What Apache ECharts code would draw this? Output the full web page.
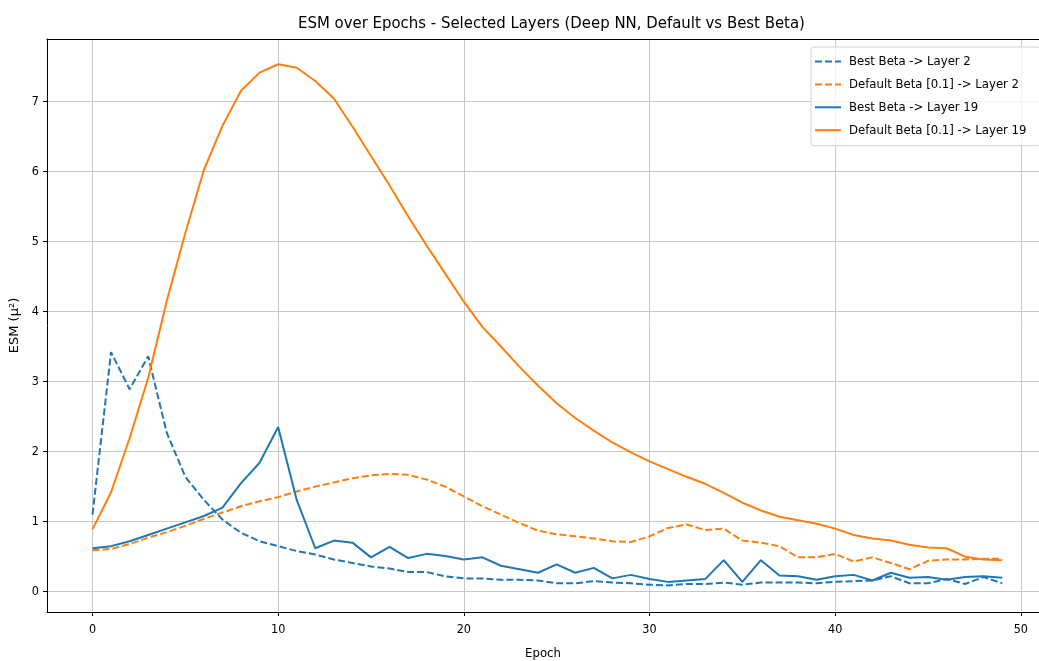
<!DOCTYPE html>
<html lang="en">
<head>
    <meta charset="UTF-8">
    <title>esm</title>
    <script src="https://cdn.jsdelivr.net/npm/echarts@6/dist/echarts.min.js"></script>
    <style>
        html, body { margin: 0; padding: 0; background: #fff; }
        #chart { width: 1039px; height: 661px; }
    </style>
</head>
<body>
<div id="chart"></div>
<script>
    var epochs = [];
    for (var i = 0; i < 50; i++) epochs.push(i);

    var bestL2 = [1.10, 3.42, 2.89, 3.36, 2.27, 1.64, 1.31, 1.03, 0.84, 0.72,
                  0.65, 0.58, 0.53, 0.46, 0.41, 0.36, 0.33, 0.28, 0.28, 0.22,
                  0.19, 0.19, 0.17, 0.17, 0.16, 0.12, 0.12, 0.15, 0.13, 0.12,
                  0.10, 0.09, 0.11, 0.11, 0.13, 0.10, 0.13, 0.13, 0.13, 0.12,
                  0.14, 0.15, 0.16, 0.22, 0.12, 0.12, 0.18, 0.11, 0.21, 0.12];
    var defaultL2 = [0.59, 0.61, 0.68, 0.77, 0.85, 0.94, 1.04, 1.13, 1.22, 1.29,
                     1.35, 1.43, 1.50, 1.56, 1.62, 1.66, 1.68, 1.67, 1.60, 1.50,
                     1.36, 1.22, 1.10, 0.98, 0.87, 0.82, 0.79, 0.76, 0.72, 0.71,
                     0.79, 0.91, 0.96, 0.88, 0.90, 0.73, 0.70, 0.65, 0.49, 0.49,
                     0.54, 0.43, 0.49, 0.41, 0.32, 0.44, 0.46, 0.46, 0.47, 0.47];
    var bestL19 = [0.62, 0.65, 0.72, 0.81, 0.90, 0.99, 1.08, 1.20, 1.55, 1.84,
                   2.35, 1.31, 0.62, 0.73, 0.70, 0.49, 0.64, 0.48, 0.54, 0.51,
                   0.46, 0.49, 0.37, 0.32, 0.27, 0.39, 0.27, 0.34, 0.19, 0.24,
                   0.18, 0.14, 0.16, 0.18, 0.45, 0.14, 0.45, 0.23, 0.22, 0.17,
                   0.22, 0.24, 0.16, 0.27, 0.20, 0.21, 0.17, 0.21, 0.22, 0.20];
    var defaultL19 = [0.89, 1.42, 2.19, 3.05, 4.15, 5.12, 6.02, 6.65, 7.15, 7.41,
                      7.53, 7.48, 7.29, 7.04, 6.64, 6.22, 5.80, 5.36, 4.94, 4.54,
                      4.14, 3.78, 3.50, 3.21, 2.94, 2.69, 2.48, 2.30, 2.13, 1.99,
                      1.86, 1.75, 1.64, 1.54, 1.41, 1.27, 1.16, 1.07, 1.02, 0.97,
                      0.90, 0.81, 0.76, 0.73, 0.67, 0.63, 0.62, 0.50, 0.46, 0.45];

    var xTicks = [0, 10, 20, 30, 40, 50];
    var yTicks = [0, 1, 2, 3, 4, 5, 6, 7];

    var blue = '#1f77b4', orange = '#ff7f0e';
    var font = '"DejaVu Sans Condensed", "Liberation Sans Narrow", "DejaVu Sans", sans-serif';

    function pairs(vals) {
        return vals.map(function (v, i) { return [epochs[i], v]; });
    }

    function line(name, vals, color, dashed) {
        return {
            name: name,
            type: 'line',
            data: pairs(vals),
            symbol: 'none',
            silent: true,
            lineStyle: { color: color, width: 2, type: dashed ? [7, 3] : 'solid' },
            itemStyle: { color: color }
        };
    }

    var myChart = echarts.init(document.getElementById('chart'));

    var option = {
        animation: false,
        textStyle: { fontFamily: font },
        title: {
            text: 'ESM over Epochs - Selected Layers (Deep NN, Default vs Best Beta)',
            left: 293,
            top: 10,
            textStyle: { fontFamily: font, fontSize: 16.6, fontWeight: 'normal', color: '#000' }
        },
        legend: {
            orient: 'vertical',
            left: 811,
            top: 47,
            padding: [8, 14, 9, 3],
            itemGap: 9.9,
            itemWidth: 26,
            itemHeight: 14,
            backgroundColor: 'rgba(255,255,255,0.8)',
            borderColor: '#d0d0d0',
            borderWidth: 1,
            borderRadius: 3,
            itemStyle: { opacity: 0 },
            textStyle: { fontFamily: font, fontSize: 13, color: '#000', padding: [0, 0, 0, 3] },
            data: [
                'Best Beta -> Layer 2',
                'Default Beta [0.1] -> Layer 2',
                'Best Beta -> Layer 19',
                'Default Beta [0.1] -> Layer 19'
            ]
        },
        grid: {
            left: 47,
            top: 39,
            right: 0,
            bottom: 49,
            outerBoundsMode: 'none'
        },
        xAxis: [{
            type: 'value',
            min: -2.45,
            max: 50.98,
            name: 'Epoch',
            nameLocation: 'middle',
            nameGap: 35,
            nameTextStyle: { fontFamily: font, fontSize: 13, color: '#000' },
            axisLine: { show: true, onZero: false, lineStyle: { color: '#000', width: 1 } },
            axisTick: { show: true, length: 4, customValues: xTicks, lineStyle: { color: '#000' } },
            axisLabel: { customValues: xTicks, margin: 11, fontSize: 12.5, color: '#000', fontFamily: font },
            splitLine: { show: true, lineStyle: { color: '#c8c8c8', width: 1 } }
        }, {
            type: 'value',
            position: 'top',
            min: -2.45,
            max: 50.98,
            axisLine: { show: true, onZero: false, lineStyle: { color: '#000', width: 1 } },
            axisTick: { show: false },
            axisLabel: { show: false },
            splitLine: { show: false }
        }],
        yAxis: {
            type: 'value',
            min: -0.29,
            max: 7.89,
            name: 'ESM (μ²)',
            nameLocation: 'middle',
            nameGap: 21,
            nameTextStyle: { fontFamily: '"DejaVu Sans", sans-serif', fontSize: 13, color: '#000' },
            axisLine: { show: true, onZero: false, lineStyle: { color: '#000', width: 1 } },
            axisTick: { show: true, length: 4, customValues: yTicks, lineStyle: { color: '#000' } },
            axisLabel: { customValues: yTicks, margin: 8, fontSize: 12.5, color: '#000', fontFamily: font },
            splitLine: { show: true, lineStyle: { color: '#c8c8c8', width: 1 } }
        },
        series: [
            line('Best Beta -> Layer 2', bestL2, blue, true),
            line('Default Beta [0.1] -> Layer 2', defaultL2, orange, true),
            line('Best Beta -> Layer 19', bestL19, blue, false),
            line('Default Beta [0.1] -> Layer 19', defaultL19, orange, false)
        ]
    };

    myChart.setOption(option);
</script>
</body>
</html>
